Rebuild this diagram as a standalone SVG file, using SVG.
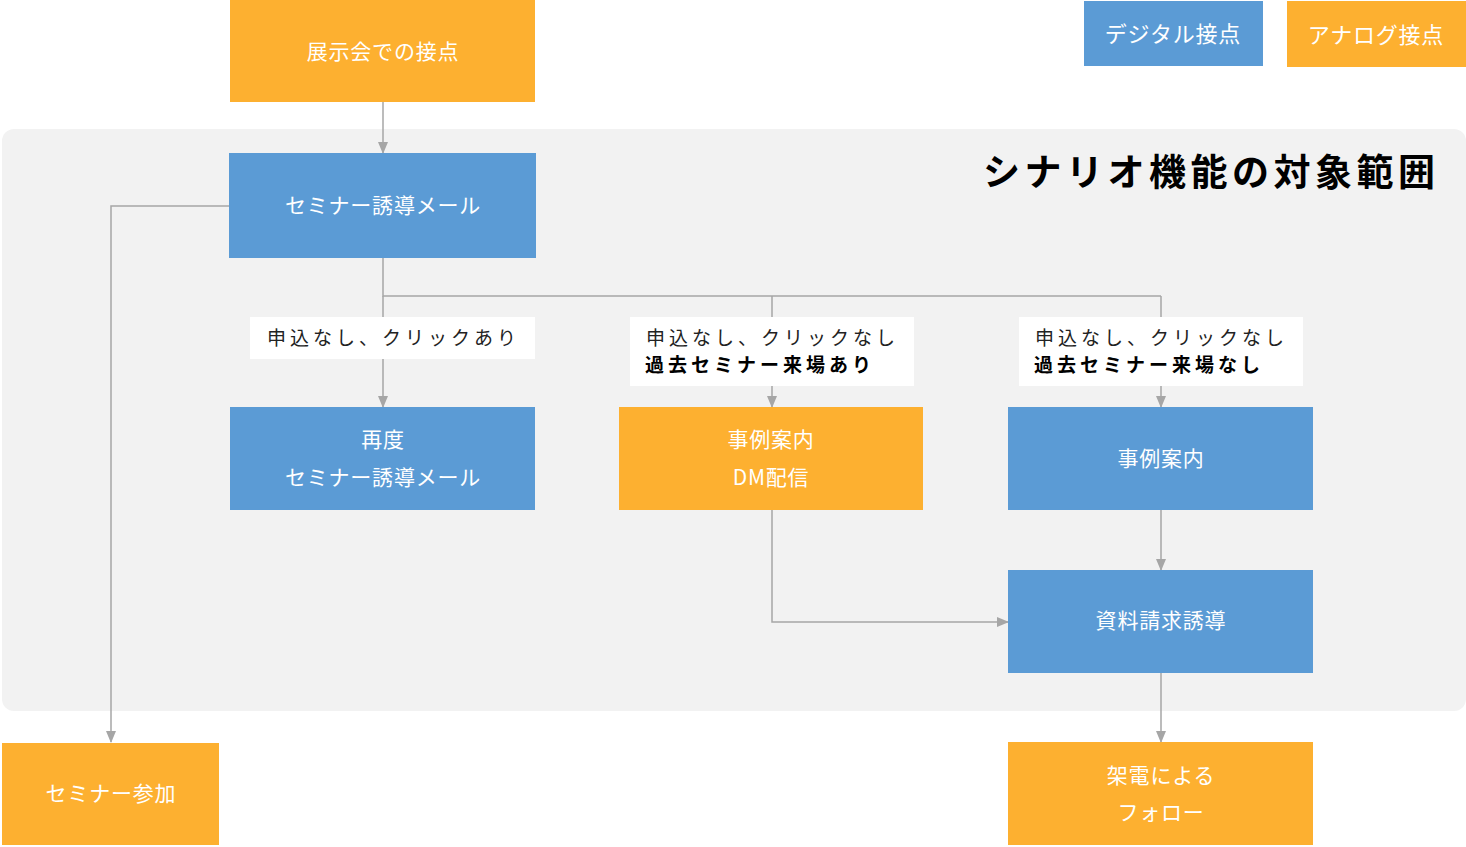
<svg xmlns="http://www.w3.org/2000/svg" width="1466" height="847" viewBox="0 0 1466 847">
<defs>
<marker id="arr" markerWidth="12" markerHeight="10" refX="11" refY="5" orient="auto" markerUnits="userSpaceOnUse">
<path d="M0,0 L12,5 L0,10 Z" fill="#A6A6A6"/>
</marker>
<style>
.blue{fill:#5B9BD5}
.orange{fill:#FDB030}
.nt{font-family:"Noto Sans CJK JP","Noto Sans",sans-serif;font-size:21px;fill:#ffffff;text-anchor:middle;dominant-baseline:central;font-weight:400;letter-spacing:0.8px}
.lb{fill:#ffffff}
.lt{font-family:"Noto Sans CJK JP","Noto Sans",sans-serif;font-size:19px;fill:#222;dominant-baseline:central;letter-spacing:4px;font-weight:400}
.lb2{font-weight:700;letter-spacing:4px;fill:#000}
.conn{fill:none;stroke:#A6A6A6;stroke-width:1.5}
</style>
</defs>
<rect width="1466" height="847" fill="#ffffff"/>
<g id="scope">
<rect x="2" y="129" width="1464" height="582" rx="12" fill="#F2F2F2"/>
<text x="983" y="170" font-family="'Noto Sans CJK JP',sans-serif" font-size="37" font-weight="700" fill="#000" dominant-baseline="central" letter-spacing="4.5">シナリオ機能の対象範囲</text>
</g>
<g id="connectors">
<path class="conn" d="M383,102 V153" marker-end="url(#arr)"/>
<path class="conn" d="M229,206 H111 V742" marker-end="url(#arr)"/>
<path class="conn" d="M383,258 V296 H1161"/>
<path class="conn" d="M383,296 V407" marker-end="url(#arr)"/>
<path class="conn" d="M772,296 V407" marker-end="url(#arr)"/>
<path class="conn" d="M1161,296 V407" marker-end="url(#arr)"/>
<path class="conn" d="M772,510 V622 H1008" marker-end="url(#arr)"/>
<path class="conn" d="M1161,510 V570" marker-end="url(#arr)"/>
<path class="conn" d="M1161,673 V742" marker-end="url(#arr)"/>
</g>
<g id="label1">
<rect class="lb" x="250" y="317" width="285" height="42"/>
<text class="lt" x="267" y="336">申込なし、クリックあり</text>
</g>
<g id="label2">
<rect class="lb" x="630" y="317" width="284" height="69"/>
<text class="lt" x="646" y="336">申込なし、クリックなし</text>
<text class="lt lb2" x="645" y="363">過去セミナー来場あり</text>
</g>
<g id="label3">
<rect class="lb" x="1019" y="317" width="284" height="69"/>
<text class="lt" x="1035" y="336">申込なし、クリックなし</text>
<text class="lt lb2" x="1034" y="363">過去セミナー来場なし</text>
</g>
<g id="n-expo">
<rect class="orange" x="230" y="0" width="305" height="102"/>
<text class="nt" x="383" y="50">展示会での接点</text>
</g>
<g id="n-mail">
<rect class="blue" x="229" y="153" width="307" height="105"/>
<text class="nt" x="383" y="204">セミナー誘導メール</text>
</g>
<g id="n-remail">
<rect class="blue" x="230" y="407" width="305" height="103"/>
<text class="nt" x="383" y="438">再度</text>
<text class="nt" x="383" y="476">セミナー誘導メール</text>
</g>
<g id="n-dm">
<rect class="orange" x="619" y="407" width="304" height="103"/>
<text class="nt" x="771" y="438">事例案内</text>
<text class="nt" x="771" y="476">DM配信</text>
</g>
<g id="n-case">
<rect class="blue" x="1008" y="407" width="305" height="103"/>
<text class="nt" x="1161" y="457">事例案内</text>
</g>
<g id="n-doc">
<rect class="blue" x="1008" y="570" width="305" height="103"/>
<text class="nt" x="1161" y="619">資料請求誘導</text>
</g>
<g id="n-join">
<rect class="orange" x="2" y="743" width="217" height="102"/>
<text class="nt" x="111" y="792">セミナー参加</text>
</g>
<g id="n-call">
<rect class="orange" x="1008" y="742" width="305" height="103"/>
<text class="nt" x="1161" y="774">架電による</text>
<text class="nt" x="1161" y="811">フォロー</text>
</g>
<g id="legend-digital">
<rect class="blue" x="1084" y="1" width="179" height="65"/>
<text class="nt" x="1173" y="32" style="font-size:22px">デジタル接点</text>
</g>
<g id="legend-analog">
<rect class="orange" x="1287" y="1" width="179" height="66"/>
<text class="nt" x="1376" y="33" style="font-size:22px">アナログ接点</text>
</g>
</svg>
